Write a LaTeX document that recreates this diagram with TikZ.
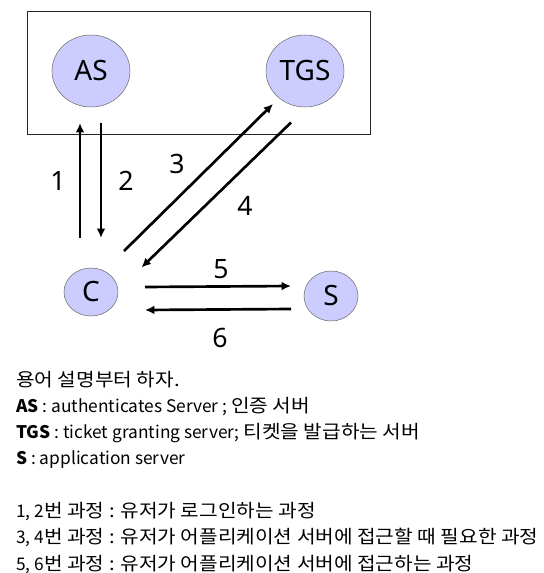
\documentclass[tikz,border=0pt]{standalone}
\usepackage{fontspec}
\setmainfont{Noto Sans CJK KR}
\newfontfamily\kr[Scale=1.06,FakeStretch=1.10]{Noto Sans CJK KR}
\newfontfamily\diagfont{Noto Sans}
\usetikzlibrary{arrows.meta,shapes.geometric}
\definecolor{NodeLilac}{HTML}{CCCCFF}
\definecolor{NodeEdge}{HTML}{6E6E6E}

\begin{document}
\begin{tikzpicture}[x=0.75pt,y=-0.75pt,
  server/.style={ellipse,draw=NodeEdge,fill=NodeLilac,inner sep=0pt,
    font=\diagfont\fontsize{21}{21}\selectfont},
  msg/.style={line width=2pt,-{Latex[length=7pt,width=6.5pt]}},
  num/.style={font=\diagfont\fontsize{20}{20}\selectfont},
  note/.style={anchor=base west,inner sep=0pt,font=\fontsize{13}{16}\selectfont}]
  \useasboundingbox (0,0) rectangle (543,573);

  % server box
  \draw[line width=0.6pt,black!85] (27,11) rectangle (370,134);
  \node[server,minimum width=58.5pt,minimum height=54pt] (AS) at (91,71) {AS};
  \node[server,minimum width=58.5pt,minimum height=54pt] (TGS) at (305,71) {TGS};
  \node[server,minimum width=40.5pt,minimum height=36pt] (C) at (91,292) {C};
  \node[server,minimum width=40.5pt,minimum height=37.5pt] (S) at (331,296) {S};

  % message ends
  \coordinate (s1) at (80,238);   \coordinate (e1) at (80,123);
  \coordinate (s2) at (101,123);  \coordinate (e2) at (101,238);
  \coordinate (s3) at (124,251);  \coordinate (e3) at (273,104);
  \coordinate (s4) at (291,122.5);\coordinate (e4) at (141.5,267.5);
  \coordinate (s5) at (145,287);  \coordinate (e5) at (291,286);
  \coordinate (s6) at (291,309);  \coordinate (e6) at (145,310);

  \draw[msg] (s1) -- (e1);
  \draw[msg] (s2) -- (e2);
  \draw[msg] (s3) -- (e3);
  \draw[msg] (s4) -- (e4);
  \draw[msg] (s5) -- (e5);
  \draw[msg] (s6) -- (e6);

  \node[num] (n1) at (58,181) {1};
  \node[num] (n2) at (126,181) {2};
  \node[num] (n3) at (177,164) {3};
  \node[num] (n4) at (245,206) {4};
  \node[num] (n5) at (221,269) {5};
  \node[num] (n6) at (220,338) {6};

  % explanation
  \node[note] (t0) at (16,386) {{\kr 용어 설명부터 하자.}};
  \node[note] (t1) at (16,412.3) {\textbf{AS} : authenticates Server ; {\kr 인증 서버}};
  \node[note] (t2) at (16,438.6) {\textbf{TGS} : ticket granting server; {\kr 티켓을 발급하는 서버}};
  \node[note] (t3) at (16,464.9) {\textbf{S} : application server};
  \node[note] (t4) at (16,517.5) {1, 2{\kr 번 과정 : 유저가 로그인하는 과정}};
  \node[note] (t5) at (16,543.8) {3, 4{\kr 번 과정 : 유저가 어플리케이션 서버에 접근할 때 필요한 과정}};
  \node[note] (t6) at (16,570.1) {5, 6{\kr 번 과정 : 유저가 어플리케이션 서버에 접근하는 과정}};
\end{tikzpicture}
\end{document}
